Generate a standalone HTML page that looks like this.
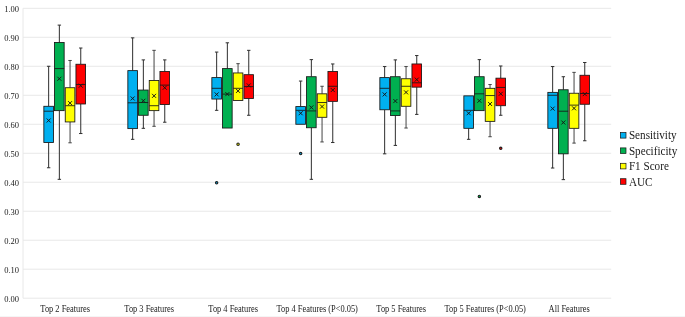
<!DOCTYPE html>
<html><head><meta charset="utf-8"><title>Box plot</title>
<style>html,body{margin:0;padding:0;background:#fff;}body{width:685px;height:317px;overflow:hidden;}</style>
</head><body>
<svg width="685" height="317" viewBox="0 0 685 317" style="display:block">
<rect width="685" height="317" fill="#fff"/>
<rect x="0" y="316" width="685" height="1" fill="#f5f5f5"/>
<line x1="23.0" y1="298.20" x2="611.2" y2="298.20" stroke="#e8e8e8" stroke-width="1"/>
<line x1="23.0" y1="269.21" x2="611.2" y2="269.21" stroke="#e8e8e8" stroke-width="1"/>
<line x1="23.0" y1="240.22" x2="611.2" y2="240.22" stroke="#e8e8e8" stroke-width="1"/>
<line x1="23.0" y1="211.23" x2="611.2" y2="211.23" stroke="#e8e8e8" stroke-width="1"/>
<line x1="23.0" y1="182.24" x2="611.2" y2="182.24" stroke="#e8e8e8" stroke-width="1"/>
<line x1="23.0" y1="153.25" x2="611.2" y2="153.25" stroke="#e8e8e8" stroke-width="1"/>
<line x1="23.0" y1="124.26" x2="611.2" y2="124.26" stroke="#e8e8e8" stroke-width="1"/>
<line x1="23.0" y1="95.27" x2="611.2" y2="95.27" stroke="#e8e8e8" stroke-width="1"/>
<line x1="23.0" y1="66.28" x2="611.2" y2="66.28" stroke="#e8e8e8" stroke-width="1"/>
<line x1="23.0" y1="37.29" x2="611.2" y2="37.29" stroke="#e8e8e8" stroke-width="1"/>
<line x1="23.0" y1="8.30" x2="611.2" y2="8.30" stroke="#e8e8e8" stroke-width="1"/>
<line x1="23.0" y1="8.30" x2="23.0" y2="298.20" stroke="#e8e8e8" stroke-width="1"/>
<g font-family="'Liberation Serif', serif" font-size="8.5" fill="#222" text-anchor="end">
<text x="19" y="302.00">0.00</text>
<text x="19" y="273.01">0.10</text>
<text x="19" y="244.02">0.20</text>
<text x="19" y="215.03">0.30</text>
<text x="19" y="186.04">0.40</text>
<text x="19" y="157.05">0.50</text>
<text x="19" y="128.06">0.60</text>
<text x="19" y="99.07">0.70</text>
<text x="19" y="70.08">0.80</text>
<text x="19" y="41.09">0.90</text>
<text x="19" y="12.10">1.00</text>
</g>
<g font-family="'Liberation Serif', serif" font-size="9.6" fill="#222" text-anchor="middle">
<text transform="translate(65.20,312) scale(0.875,1)">Top 2 Features</text>
<text transform="translate(149.20,312) scale(0.875,1)">Top 3 Features</text>
<text transform="translate(233.20,312) scale(0.875,1)">Top 4 Features</text>
<text transform="translate(317.20,312) scale(0.875,1)">Top 4 Features (P&lt;0.05)</text>
<text transform="translate(401.20,312) scale(0.875,1)">Top 5 Features</text>
<text transform="translate(485.20,312) scale(0.875,1)">Top 5 Features (P&lt;0.05)</text>
<text transform="translate(569.20,312) scale(0.875,1)">All Features</text>
</g>
<path d="M48.65 106.29V66.28M46.95 66.28H50.35" stroke="#2e2e2e" stroke-width="1" fill="none"/>
<path d="M48.65 142.52V167.75M46.95 167.75H50.35" stroke="#2e2e2e" stroke-width="1" fill="none"/>
<rect x="43.85" y="106.29" width="9.6" height="36.24" fill="#00B0F0" stroke="#151515" stroke-width="0.85"/>
<line x1="43.85" y1="111.21" x2="53.45" y2="111.21" stroke="#151515" stroke-width="0.85"/>
<path d="M46.65 118.49L50.65 122.49M46.65 122.49L50.65 118.49" stroke="#151515" stroke-width="0.95" fill="none"/>
<path d="M59.35 42.51V25.11M57.65 25.11H61.05" stroke="#2e2e2e" stroke-width="1" fill="none"/>
<path d="M59.35 110.63V179.34M57.65 179.34H61.05" stroke="#2e2e2e" stroke-width="1" fill="none"/>
<rect x="54.55" y="42.51" width="9.6" height="68.13" fill="#00B050" stroke="#151515" stroke-width="0.85"/>
<line x1="54.55" y1="68.60" x2="64.15" y2="68.60" stroke="#151515" stroke-width="0.85"/>
<path d="M57.35 76.75L61.35 80.75M57.35 80.75L61.35 76.75" stroke="#151515" stroke-width="0.95" fill="none"/>
<path d="M70.05 87.73V60.48M68.35 60.48H71.75" stroke="#444444" stroke-width="1" fill="none"/>
<path d="M70.05 121.94V142.81M68.35 142.81H71.75" stroke="#444444" stroke-width="1" fill="none"/>
<rect x="65.25" y="87.73" width="9.6" height="34.21" fill="#FFFF00" stroke="#151515" stroke-width="0.85"/>
<line x1="65.25" y1="105.71" x2="74.85" y2="105.71" stroke="#151515" stroke-width="0.85"/>
<path d="M68.05 101.10L72.05 105.10M68.05 105.10L72.05 101.10" stroke="#151515" stroke-width="0.95" fill="none"/>
<path d="M80.75 64.25V48.02M79.05 48.02H82.45" stroke="#2e2e2e" stroke-width="1" fill="none"/>
<path d="M80.75 103.97V133.54M79.05 133.54H82.45" stroke="#2e2e2e" stroke-width="1" fill="none"/>
<rect x="75.95" y="64.25" width="9.6" height="39.72" fill="#FF0000" stroke="#151515" stroke-width="0.85"/>
<line x1="75.95" y1="84.54" x2="85.55" y2="84.54" stroke="#151515" stroke-width="0.85"/>
<path d="M78.75 83.70L82.75 87.70M78.75 87.70L82.75 83.70" stroke="#151515" stroke-width="0.95" fill="none"/>
<path d="M132.65 70.63V37.87M130.95 37.87H134.35" stroke="#2e2e2e" stroke-width="1" fill="none"/>
<path d="M132.65 128.61V139.33M130.95 139.33H134.35" stroke="#2e2e2e" stroke-width="1" fill="none"/>
<rect x="127.85" y="70.63" width="9.6" height="57.98" fill="#00B0F0" stroke="#151515" stroke-width="0.85"/>
<line x1="127.85" y1="102.81" x2="137.45" y2="102.81" stroke="#151515" stroke-width="0.85"/>
<path d="M130.65 96.46L134.65 100.46M130.65 100.46L134.65 96.46" stroke="#151515" stroke-width="0.95" fill="none"/>
<path d="M143.35 90.05V59.90M141.65 59.90H145.05" stroke="#2e2e2e" stroke-width="1" fill="none"/>
<path d="M143.35 115.27V128.32M141.65 128.32H145.05" stroke="#2e2e2e" stroke-width="1" fill="none"/>
<rect x="138.55" y="90.05" width="9.6" height="25.22" fill="#00B050" stroke="#151515" stroke-width="0.85"/>
<line x1="138.55" y1="102.52" x2="148.15" y2="102.52" stroke="#151515" stroke-width="0.85"/>
<path d="M141.35 98.78L145.35 102.78M141.35 102.78L145.35 98.78" stroke="#151515" stroke-width="0.95" fill="none"/>
<path d="M154.05 80.49V50.34M152.35 50.34H155.75" stroke="#444444" stroke-width="1" fill="none"/>
<path d="M154.05 110.63V126.29M152.35 126.29H155.75" stroke="#444444" stroke-width="1" fill="none"/>
<rect x="149.25" y="80.49" width="9.6" height="30.15" fill="#FFFF00" stroke="#151515" stroke-width="0.85"/>
<line x1="149.25" y1="105.71" x2="158.85" y2="105.71" stroke="#151515" stroke-width="0.85"/>
<path d="M152.05 93.85L156.05 97.85M152.05 97.85L156.05 93.85" stroke="#151515" stroke-width="0.95" fill="none"/>
<path d="M164.75 71.50V59.90M163.05 59.90H166.45" stroke="#2e2e2e" stroke-width="1" fill="none"/>
<path d="M164.75 104.55V122.23M163.05 122.23H166.45" stroke="#2e2e2e" stroke-width="1" fill="none"/>
<rect x="159.95" y="71.50" width="9.6" height="33.05" fill="#FF0000" stroke="#151515" stroke-width="0.85"/>
<line x1="159.95" y1="85.12" x2="169.55" y2="85.12" stroke="#151515" stroke-width="0.85"/>
<path d="M162.75 85.73L166.75 89.73M162.75 89.73L166.75 85.73" stroke="#151515" stroke-width="0.95" fill="none"/>
<path d="M216.65 77.59V52.07M214.95 52.07H218.35" stroke="#2e2e2e" stroke-width="1" fill="none"/>
<path d="M216.65 99.04V110.34M214.95 110.34H218.35" stroke="#2e2e2e" stroke-width="1" fill="none"/>
<rect x="211.85" y="77.59" width="9.6" height="21.45" fill="#00B0F0" stroke="#151515" stroke-width="0.85"/>
<line x1="211.85" y1="88.31" x2="221.45" y2="88.31" stroke="#151515" stroke-width="0.85"/>
<path d="M214.65 92.40L218.65 96.40M214.65 96.40L218.65 92.40" stroke="#151515" stroke-width="0.95" fill="none"/>
<circle cx="216.65" cy="182.82" r="1.2" fill="#00B0F0" stroke="#1f1f1f" stroke-width="1.1"/>
<path d="M227.35 68.60V42.80M225.65 42.80H229.05" stroke="#2e2e2e" stroke-width="1" fill="none"/>
<rect x="222.55" y="68.60" width="9.6" height="59.43" fill="#00B050" stroke="#151515" stroke-width="0.85"/>
<line x1="222.55" y1="94.11" x2="232.15" y2="94.11" stroke="#151515" stroke-width="0.85"/>
<path d="M225.35 92.11L229.35 96.11M225.35 96.11L229.35 92.11" stroke="#151515" stroke-width="0.95" fill="none"/>
<path d="M238.05 72.95V63.67M236.35 63.67H239.75" stroke="#444444" stroke-width="1" fill="none"/>
<rect x="233.25" y="72.95" width="9.6" height="27.54" fill="#FFFF00" stroke="#151515" stroke-width="0.85"/>
<line x1="233.25" y1="88.31" x2="242.85" y2="88.31" stroke="#151515" stroke-width="0.85"/>
<path d="M236.05 88.92L240.05 92.92M236.05 92.92L240.05 88.92" stroke="#151515" stroke-width="0.95" fill="none"/>
<circle cx="238.05" cy="144.26" r="1.2" fill="#FFFF00" stroke="#1f1f1f" stroke-width="1.1"/>
<path d="M248.75 74.69V50.34M247.05 50.34H250.45" stroke="#2e2e2e" stroke-width="1" fill="none"/>
<path d="M248.75 98.46V115.27M247.05 115.27H250.45" stroke="#2e2e2e" stroke-width="1" fill="none"/>
<rect x="243.95" y="74.69" width="9.6" height="23.77" fill="#FF0000" stroke="#151515" stroke-width="0.85"/>
<line x1="243.95" y1="86.57" x2="253.55" y2="86.57" stroke="#151515" stroke-width="0.85"/>
<path d="M246.75 83.41L250.75 87.41M246.75 87.41L250.75 83.41" stroke="#151515" stroke-width="0.95" fill="none"/>
<path d="M300.65 106.58V81.06M298.95 81.06H302.35" stroke="#2e2e2e" stroke-width="1" fill="none"/>
<rect x="295.85" y="106.58" width="9.6" height="17.68" fill="#00B0F0" stroke="#151515" stroke-width="0.85"/>
<line x1="295.85" y1="110.34" x2="305.45" y2="110.34" stroke="#151515" stroke-width="0.85"/>
<path d="M298.65 111.24L302.65 115.24M298.65 115.24L302.65 111.24" stroke="#151515" stroke-width="0.95" fill="none"/>
<circle cx="300.65" cy="153.54" r="1.2" fill="#00B0F0" stroke="#1f1f1f" stroke-width="1.1"/>
<path d="M311.35 76.72V59.61M309.65 59.61H313.05" stroke="#2e2e2e" stroke-width="1" fill="none"/>
<path d="M311.35 127.74V179.34M309.65 179.34H313.05" stroke="#2e2e2e" stroke-width="1" fill="none"/>
<rect x="306.55" y="76.72" width="9.6" height="51.02" fill="#00B050" stroke="#151515" stroke-width="0.85"/>
<line x1="306.55" y1="110.92" x2="316.15" y2="110.92" stroke="#151515" stroke-width="0.85"/>
<path d="M309.35 105.45L313.35 109.45M309.35 109.45L313.35 105.45" stroke="#151515" stroke-width="0.95" fill="none"/>
<path d="M322.05 93.82V86.28M320.35 86.28H323.75" stroke="#444444" stroke-width="1" fill="none"/>
<path d="M322.05 117.30V141.94M320.35 141.94H323.75" stroke="#444444" stroke-width="1" fill="none"/>
<rect x="317.25" y="93.82" width="9.6" height="23.48" fill="#FFFF00" stroke="#151515" stroke-width="0.85"/>
<line x1="317.25" y1="102.52" x2="326.85" y2="102.52" stroke="#151515" stroke-width="0.85"/>
<path d="M320.05 104.58L324.05 108.58M320.05 108.58L324.05 104.58" stroke="#151515" stroke-width="0.95" fill="none"/>
<path d="M332.75 71.50V63.96M331.05 63.96H334.45" stroke="#2e2e2e" stroke-width="1" fill="none"/>
<path d="M332.75 101.36V142.52M331.05 142.52H334.45" stroke="#2e2e2e" stroke-width="1" fill="none"/>
<rect x="327.95" y="71.50" width="9.6" height="29.86" fill="#FF0000" stroke="#151515" stroke-width="0.85"/>
<line x1="327.95" y1="86.28" x2="337.55" y2="86.28" stroke="#151515" stroke-width="0.85"/>
<path d="M330.75 88.05L334.75 92.05M330.75 92.05L334.75 88.05" stroke="#151515" stroke-width="0.95" fill="none"/>
<path d="M384.65 77.59V66.57M382.95 66.57H386.35" stroke="#2e2e2e" stroke-width="1" fill="none"/>
<path d="M384.65 109.76V153.83M382.95 153.83H386.35" stroke="#2e2e2e" stroke-width="1" fill="none"/>
<rect x="379.85" y="77.59" width="9.6" height="32.18" fill="#00B0F0" stroke="#151515" stroke-width="0.85"/>
<line x1="379.85" y1="88.31" x2="389.45" y2="88.31" stroke="#151515" stroke-width="0.85"/>
<path d="M382.65 92.40L386.65 96.40M382.65 96.40L386.65 92.40" stroke="#151515" stroke-width="0.95" fill="none"/>
<path d="M395.35 76.72V59.90M393.65 59.90H397.05" stroke="#2e2e2e" stroke-width="1" fill="none"/>
<path d="M395.35 115.56V145.42M393.65 145.42H397.05" stroke="#2e2e2e" stroke-width="1" fill="none"/>
<rect x="390.55" y="76.72" width="9.6" height="38.85" fill="#00B050" stroke="#151515" stroke-width="0.85"/>
<line x1="390.55" y1="110.92" x2="400.15" y2="110.92" stroke="#151515" stroke-width="0.85"/>
<path d="M393.35 99.07L397.35 103.07M393.35 103.07L397.35 99.07" stroke="#151515" stroke-width="0.95" fill="none"/>
<path d="M406.05 78.75V66.57M404.35 66.57H407.75" stroke="#444444" stroke-width="1" fill="none"/>
<path d="M406.05 106.29V128.03M404.35 128.03H407.75" stroke="#444444" stroke-width="1" fill="none"/>
<rect x="401.25" y="78.75" width="9.6" height="27.54" fill="#FFFF00" stroke="#151515" stroke-width="0.85"/>
<line x1="401.25" y1="86.28" x2="410.85" y2="86.28" stroke="#151515" stroke-width="0.85"/>
<path d="M404.05 90.37L408.05 94.37M404.05 94.37L408.05 90.37" stroke="#151515" stroke-width="0.95" fill="none"/>
<path d="M416.75 63.96V55.55M415.05 55.55H418.45" stroke="#2e2e2e" stroke-width="1" fill="none"/>
<path d="M416.75 87.15V114.40M415.05 114.40H418.45" stroke="#2e2e2e" stroke-width="1" fill="none"/>
<rect x="411.95" y="63.96" width="9.6" height="23.19" fill="#FF0000" stroke="#151515" stroke-width="0.85"/>
<line x1="411.95" y1="82.80" x2="421.55" y2="82.80" stroke="#151515" stroke-width="0.85"/>
<path d="M414.75 77.62L418.75 81.62M414.75 81.62L418.75 77.62" stroke="#151515" stroke-width="0.95" fill="none"/>
<path d="M468.65 128.32V139.33M466.95 139.33H470.35" stroke="#2e2e2e" stroke-width="1" fill="none"/>
<rect x="463.85" y="95.85" width="9.6" height="32.47" fill="#00B0F0" stroke="#151515" stroke-width="0.85"/>
<line x1="463.85" y1="110.34" x2="473.45" y2="110.34" stroke="#151515" stroke-width="0.85"/>
<path d="M466.65 111.24L470.65 115.24M466.65 115.24L470.65 111.24" stroke="#151515" stroke-width="0.95" fill="none"/>
<path d="M479.35 76.72V59.61M477.65 59.61H481.05" stroke="#2e2e2e" stroke-width="1" fill="none"/>
<rect x="474.55" y="76.72" width="9.6" height="33.92" fill="#00B050" stroke="#151515" stroke-width="0.85"/>
<line x1="474.55" y1="93.82" x2="484.15" y2="93.82" stroke="#151515" stroke-width="0.85"/>
<path d="M477.35 98.78L481.35 102.78M477.35 102.78L481.35 98.78" stroke="#151515" stroke-width="0.95" fill="none"/>
<circle cx="479.35" cy="196.45" r="1.2" fill="#00B050" stroke="#1f1f1f" stroke-width="1.1"/>
<path d="M490.05 88.31V84.54M488.35 84.54H491.75" stroke="#444444" stroke-width="1" fill="none"/>
<path d="M490.05 121.36V136.73M488.35 136.73H491.75" stroke="#444444" stroke-width="1" fill="none"/>
<rect x="485.25" y="88.31" width="9.6" height="33.05" fill="#FFFF00" stroke="#151515" stroke-width="0.85"/>
<line x1="485.25" y1="95.56" x2="494.85" y2="95.56" stroke="#151515" stroke-width="0.85"/>
<path d="M488.05 101.97L492.05 105.97M488.05 105.97L492.05 101.97" stroke="#151515" stroke-width="0.95" fill="none"/>
<path d="M500.75 78.17V65.99M499.05 65.99H502.45" stroke="#2e2e2e" stroke-width="1" fill="none"/>
<path d="M500.75 105.71V115.27M499.05 115.27H502.45" stroke="#2e2e2e" stroke-width="1" fill="none"/>
<rect x="495.95" y="78.17" width="9.6" height="27.54" fill="#FF0000" stroke="#151515" stroke-width="0.85"/>
<line x1="495.95" y1="87.44" x2="505.55" y2="87.44" stroke="#151515" stroke-width="0.85"/>
<path d="M498.75 91.82L502.75 95.82M498.75 95.82L502.75 91.82" stroke="#151515" stroke-width="0.95" fill="none"/>
<circle cx="500.75" cy="148.32" r="1.2" fill="#FF0000" stroke="#1f1f1f" stroke-width="1.1"/>
<path d="M552.65 92.37V66.57M550.95 66.57H554.35" stroke="#2e2e2e" stroke-width="1" fill="none"/>
<path d="M552.65 128.32V168.03M550.95 168.03H554.35" stroke="#2e2e2e" stroke-width="1" fill="none"/>
<rect x="547.85" y="92.37" width="9.6" height="35.95" fill="#00B0F0" stroke="#151515" stroke-width="0.85"/>
<line x1="547.85" y1="95.27" x2="557.45" y2="95.27" stroke="#151515" stroke-width="0.85"/>
<path d="M550.65 106.61L554.65 110.61M550.65 110.61L554.65 106.61" stroke="#151515" stroke-width="0.95" fill="none"/>
<path d="M563.35 89.76V76.72M561.65 76.72H565.05" stroke="#2e2e2e" stroke-width="1" fill="none"/>
<path d="M563.35 153.83V179.63M561.65 179.63H565.05" stroke="#2e2e2e" stroke-width="1" fill="none"/>
<rect x="558.55" y="89.76" width="9.6" height="64.07" fill="#00B050" stroke="#151515" stroke-width="0.85"/>
<line x1="558.55" y1="111.21" x2="568.15" y2="111.21" stroke="#151515" stroke-width="0.85"/>
<path d="M561.35 120.52L565.35 124.52M561.35 124.52L565.35 120.52" stroke="#151515" stroke-width="0.95" fill="none"/>
<path d="M574.05 93.24V72.37M572.35 72.37H575.75" stroke="#444444" stroke-width="1" fill="none"/>
<path d="M574.05 128.32V143.10M572.35 143.10H575.75" stroke="#444444" stroke-width="1" fill="none"/>
<rect x="569.25" y="93.24" width="9.6" height="35.08" fill="#FFFF00" stroke="#151515" stroke-width="0.85"/>
<line x1="569.25" y1="105.13" x2="578.85" y2="105.13" stroke="#151515" stroke-width="0.85"/>
<path d="M572.05 106.32L576.05 110.32M572.05 110.32L576.05 106.32" stroke="#151515" stroke-width="0.95" fill="none"/>
<path d="M584.75 75.27V62.51M583.05 62.51H586.45" stroke="#2e2e2e" stroke-width="1" fill="none"/>
<path d="M584.75 104.26V140.78M583.05 140.78H586.45" stroke="#2e2e2e" stroke-width="1" fill="none"/>
<rect x="579.95" y="75.27" width="9.6" height="28.99" fill="#FF0000" stroke="#151515" stroke-width="0.85"/>
<line x1="579.95" y1="93.53" x2="589.55" y2="93.53" stroke="#151515" stroke-width="0.85"/>
<path d="M582.75 92.11L586.75 96.11M582.75 96.11L586.75 92.11" stroke="#151515" stroke-width="0.95" fill="none"/>
<g font-family="'Liberation Serif', serif" font-size="12" fill="#1a1a1a">
<rect x="620.4" y="132.50" width="5.6" height="5.6" fill="#00B0F0" stroke="#151515" stroke-width="0.7"/>
<text transform="translate(628.9,139.40) scale(0.93,1)">Sensitivity</text>
<rect x="620.4" y="147.90" width="5.6" height="5.6" fill="#00B050" stroke="#151515" stroke-width="0.7"/>
<text transform="translate(628.9,154.80) scale(0.93,1)">Specificity</text>
<rect x="620.4" y="163.30" width="5.6" height="5.6" fill="#FFFF00" stroke="#151515" stroke-width="0.7"/>
<text transform="translate(628.9,170.20) scale(0.93,1)">F1 Score</text>
<rect x="620.4" y="178.70" width="5.6" height="5.6" fill="#FF0000" stroke="#151515" stroke-width="0.7"/>
<text transform="translate(628.9,185.60) scale(0.93,1)">AUC</text>
</g>
</svg>
</body></html>
